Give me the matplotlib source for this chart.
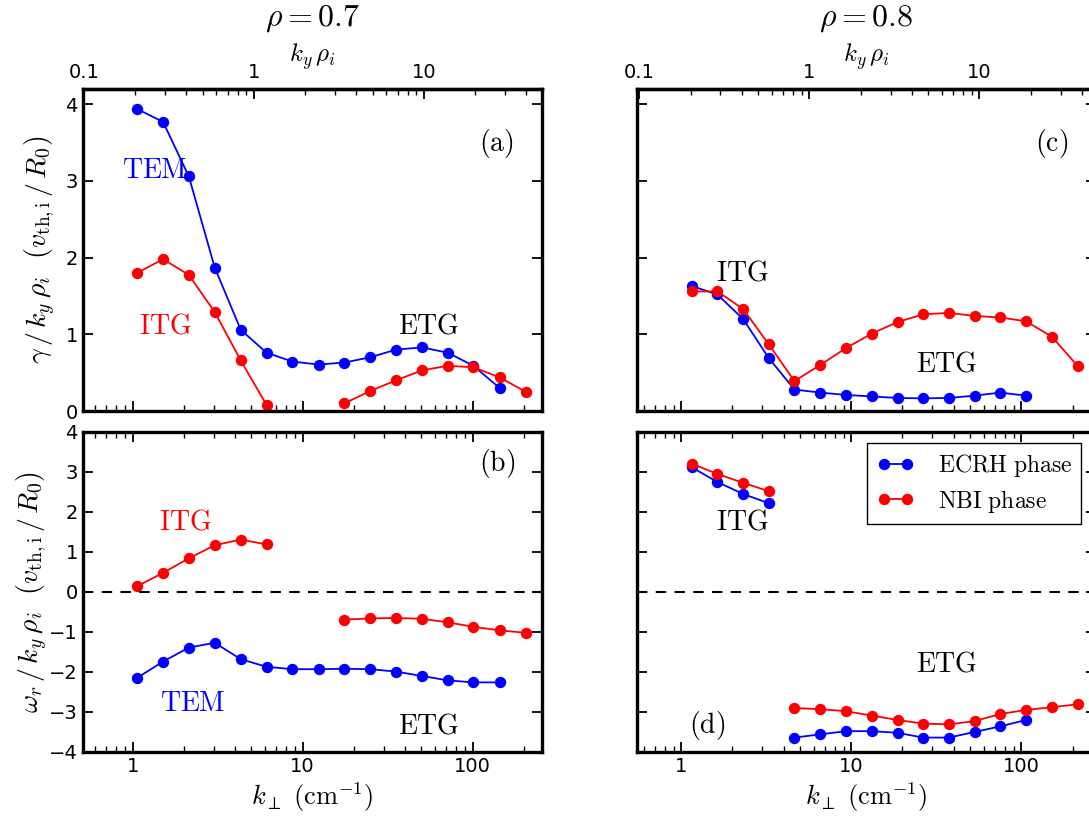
import numpy as np
import matplotlib
matplotlib.use("Agg")
import matplotlib.pyplot as plt
from matplotlib.ticker import FuncFormatter, NullFormatter, LogLocator, MultipleLocator

plt.rcParams['mathtext.fontset'] = 'cm'
plt.rcParams['font.family'] = ['DejaVu Sans']

# ---------------- data ----------------
# rho = 0.7
k07 = [1.06, 1.51, 2.14, 3.04, 4.32, 6.13, 8.71, 12.4, 17.6, 24.9, 35.4, 50.3, 71.4, 101.0, 144.0, 205.0]
gam07_ecrh = [3.94, 3.77, 3.06, 1.87, 1.06, 0.76, 0.645, 0.606, 0.632, 0.70, 0.80, 0.83, 0.76, 0.59, 0.30]
gam07_nbi_itg = [1.80, 1.98, 1.775, 1.29, 0.66, 0.08]
gam07_nbi_etg = [0.10, 0.26, 0.40, 0.53, 0.59, 0.57, 0.44, 0.25]
om07_ecrh = [-2.15, -1.74, -1.39, -1.27, -1.68, -1.87, -1.93, -1.93, -1.92, -1.93, -1.99, -2.10, -2.21, -2.26, -2.26]
om07_nbi_itg = [0.14, 0.48, 0.84, 1.17, 1.31, 1.19]
om07_nbi_etg = [-0.69, -0.66, -0.65, -0.67, -0.76, -0.87, -0.96, -1.02]

# rho = 0.8
k08 = [1.15, 1.63, 2.31, 3.27, 4.63, 6.56, 9.30, 13.2, 18.7, 26.4, 37.5, 53.1, 75.2, 106.6, 151.0, 214.0]
gam08_ecrh = [1.63, 1.52, 1.20, 0.69, 0.28, 0.24, 0.21, 0.19, 0.17, 0.165, 0.17, 0.20, 0.24, 0.20]
gam08_nbi = [1.56, 1.56, 1.33, 0.87, 0.39, 0.60, 0.82, 1.01, 1.16, 1.26, 1.28, 1.24, 1.22, 1.17, 0.97, 0.59]
om08_ecrh_itg = [3.12, 2.75, 2.45, 2.22]
om08_nbi_itg = [3.21, 2.95, 2.73, 2.52]
om08_ecrh_etg = [-3.64, -3.56, -3.48, -3.48, -3.52, -3.64, -3.64, -3.50, -3.36, -3.20]
om08_nbi_etg = [-2.90, -2.93, -2.98, -3.09, -3.20, -3.29, -3.31, -3.23, -3.05, -2.95, -2.88, -2.81]

# ---------------- figure ----------------
fig = plt.figure(figsize=(10.89, 8.23), dpi=100)

L, R, W = 0.0759, 0.5847, 0.4215
top_b, top_h = 0.5006, 0.3913
bot_b, bot_h = 0.0863, 0.3888

axa = fig.add_axes([L, top_b, W, top_h])
axb = fig.add_axes([L, bot_b, W, bot_h])
axc = fig.add_axes([R, top_b, W, top_h])
axd = fig.add_axes([R, bot_b, W, bot_h])

BLUE = '#0000ff'
RED = '#ff0000'
lkw = dict(lw=1.3, marker='o', ms=8.2, mew=0)
TXT = 20
TICKFS = 14

def style(ax, xlim, factor, top_panel, ylabels):
    ax.set_xscale('log')
    ax.set_xlim(*xlim)
    for s in ax.spines.values():
        s.set_linewidth(2.4)
    ax.xaxis.set_major_locator(LogLocator(base=10))
    ax.xaxis.set_minor_locator(LogLocator(base=10, subs=np.arange(2, 10)))
    ax.xaxis.set_major_formatter(FuncFormatter(lambda v, p: '%g' % v))
    ax.xaxis.set_minor_formatter(NullFormatter())
    ax.tick_params(which='major', direction='in', length=7, width=1.3, labelsize=TICKFS,
                   left=True, right=True, bottom=True, top=not top_panel)
    ax.tick_params(which='minor', direction='in', length=4, width=1.0,
                   left=False, right=False, bottom=True, top=not top_panel)
    ax.yaxis.set_major_locator(MultipleLocator(1))
    if not ylabels:
        ax.tick_params(labelleft=False)
    if top_panel:
        ax.tick_params(labelbottom=False)
        sec = ax.secondary_xaxis('top', functions=(lambda x: x * factor, lambda x: x / factor))
        sec.xaxis.set_major_locator(LogLocator(base=10))
        sec.xaxis.set_minor_locator(LogLocator(base=10, subs=np.arange(2, 10)))
        sec.xaxis.set_major_formatter(FuncFormatter(lambda v, p: '%g' % v))
        sec.xaxis.set_minor_formatter(NullFormatter())
        sec.tick_params(which='major', direction='in', length=7, width=1.3, labelsize=TICKFS, pad=5)
        sec.tick_params(which='minor', direction='in', length=4, width=1.0)
        sec.spines['top'].set_linewidth(2.4)
        sec.set_xlabel(r'$k_y\,\rho_i$', fontsize=18, labelpad=1)
    else:
        ax.set_xlabel(r'$k_\perp\ (\mathrm{cm}^{-1})$', fontsize=19, labelpad=3)
        ax.axhline(0, color='k', ls='--', lw=1.5, dashes=(5, 4))

xl_left = (0.508, 254.6)
xl_right = (0.547, 274.0)

# (a)
axa.plot(k07[:15], gam07_ecrh, color=BLUE, **lkw)
axa.plot(k07[:6], gam07_nbi_itg, color=RED, **lkw)
axa.plot(k07[8:], gam07_nbi_etg, color=RED, **lkw)
axa.set_ylim(0, 4.2)
style(axa, xl_left, 0.193, True, True)
axa.set_ylabel(r'$\gamma\,/\,k_y\,\rho_i\ \ (v_{\mathrm{th,i}}\,/\,R_0)$', fontsize=20, labelpad=6)
axa.text(1.35, 3.14, r'$\mathrm{TEM}$', color=BLUE, fontsize=TXT, ha='center', va='center')
axa.text(1.55, 1.12, r'$\mathrm{ITG}$', color=RED, fontsize=TXT, ha='center', va='center')
axa.text(55, 1.12, r'$\mathrm{ETG}$', color='k', fontsize=TXT, ha='center', va='center')
axa.text(137, 3.49, r'$\mathrm{(a)}$', color='k', fontsize=TXT, ha='center', va='center')

# (b)
axb.plot(k07[:15], om07_ecrh, color=BLUE, **lkw)
axb.plot(k07[:6], om07_nbi_itg, color=RED, **lkw)
axb.plot(k07[8:], om07_nbi_etg, color=RED, **lkw)
axb.set_ylim(-4, 4)
style(axb, xl_left, 0.193, False, True)
axb.set_ylabel(r'$\omega_r\,/\,k_y\,\rho_i\ \ (v_{\mathrm{th,i}}\,/\,R_0)$', fontsize=20, labelpad=0)
axb.text(2.05, 1.76, r'$\mathrm{ITG}$', color=RED, fontsize=TXT, ha='center', va='center')
axb.text(2.26, -2.78, r'$\mathrm{TEM}$', color=BLUE, fontsize=TXT, ha='center', va='center')
axb.text(55, -3.33, r'$\mathrm{ETG}$', color='k', fontsize=TXT, ha='center', va='center')
axb.text(139, 3.2, r'$\mathrm{(b)}$', color='k', fontsize=TXT, ha='center', va='center')

# (c)
axc.plot(k08[:14], gam08_ecrh, color=BLUE, **lkw)
axc.plot(k08, gam08_nbi, color=RED, **lkw)
axc.set_ylim(0, 4.2)
style(axc, xl_right, 0.1764, True, False)
axc.text(2.28, 1.81, r'$\mathrm{ITG}$', color='k', fontsize=TXT, ha='center', va='center')
axc.text(36.2, 0.62, r'$\mathrm{ETG}$', color='k', fontsize=TXT, ha='center', va='center')
axc.text(150, 3.49, r'$\mathrm{(c)}$', color='k', fontsize=TXT, ha='center', va='center')

# (d)
lb, = axd.plot(k08[:4], om08_ecrh_itg, color=BLUE, **lkw)
lr, = axd.plot(k08[:4], om08_nbi_itg, color=RED, **lkw)
axd.plot(k08[4:14], om08_ecrh_etg, color=BLUE, **lkw)
axd.plot(k08[4:], om08_nbi_etg, color=RED, **lkw)
axd.set_ylim(-4, 4)
style(axd, xl_right, 0.1764, False, False)
axd.text(2.28, 1.75, r'$\mathrm{ITG}$', color='k', fontsize=TXT, ha='center', va='center')
axd.text(36.2, -1.78, r'$\mathrm{ETG}$', color='k', fontsize=TXT, ha='center', va='center')
axd.text(1.42, -3.33, r'$\mathrm{(d)}$', color='k', fontsize=TXT, ha='center', va='center')
leg = axd.legend([lb, lr], [r'$\mathrm{ECRH\ phase}$', r'$\mathrm{NBI\ phase}$'],
                 loc='upper left', bbox_to_anchor=(867 / 1089, 1 - 443 / 823),
                 bbox_transform=fig.transFigure, borderaxespad=0, numpoints=2, fontsize=17,
                 fancybox=False, framealpha=1, edgecolor='k', handlelength=1.6,
                 borderpad=0.4, labelspacing=0.35, handletextpad=1.0)
leg.get_frame().set_linewidth(1.0)

# titles
fig.text(L + W / 2, 1 - 19 / 823, r'$\rho=0.7$', fontsize=23, ha='center', va='center')
fig.text(R + W / 2, 1 - 19 / 823, r'$\rho=0.8$', fontsize=23, ha='center', va='center')

fig.savefig('out.png', dpi=100)
